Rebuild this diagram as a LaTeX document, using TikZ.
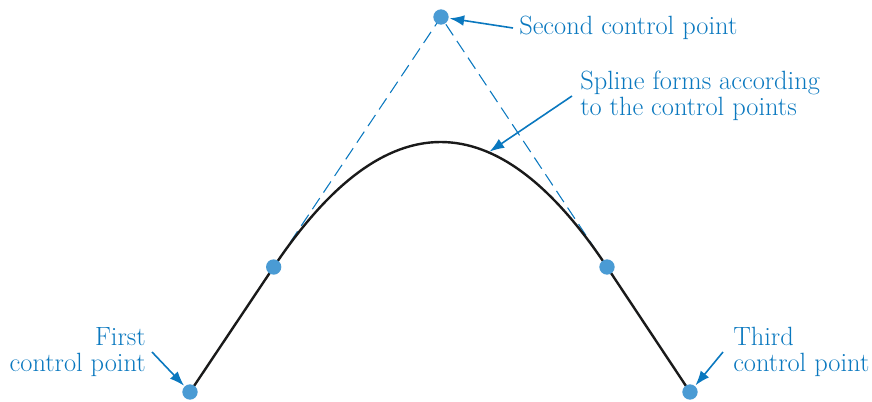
\documentclass[tikz,border=0pt]{standalone}
\usepackage{xcolor}
\usepackage{tikz}
\usetikzlibrary{arrows.meta,calc}
\definecolor{ink}{HTML}{1A1A1A}
\definecolor{accent}{HTML}{0A78BF}
\definecolor{dotblue}{HTML}{4A9BD4}
\tikzset{
  ctrldot/.style={circle,fill=dotblue,inner sep=0pt,minimum size=11.5pt},
  ctrllabel/.style={text=accent,font=\fontsize{19.8}{19.5}\selectfont,inner sep=0pt},
  polyline/.style={draw=accent,line width=0.8pt,dash pattern=on 10pt off 5pt},
  splineline/.style={draw=ink,line width=1.8pt},
  callout/.style={-{Latex[length=11pt,width=8pt]},draw=accent,line width=1.2pt,shorten >=0.5pt}
}

\begin{document}
\begin{tikzpicture}[x=0.75pt,y=-0.75pt]
\useasboundingbox (0,0) rectangle (872,401);
% control points
\coordinate (p1) at (190,392);
\coordinate (p2) at (441,17);
\coordinate (p3) at (690,392);
\coordinate (q1) at ($(p1)!1/3!(p2)$);
\coordinate (q2) at ($(p3)!1/3!(p2)$);
% control polygon
\draw[polyline] (p1) -- (p2) -- (p3);
% spline
\draw[splineline] (p1) -- (q1)
  .. controls ($(q1)!2/3!(p2)$) and ($(q2)!2/3!(p2)$) .. (q2) -- (p3);
\coordinate (onspline) at (489,152);
\node[ctrldot] (first) at (p1) {};
\node[ctrldot] (second) at (p2) {};
\node[ctrldot] (third) at (p3) {};
\node[ctrldot] (lefthalf) at (q1) {};
\node[ctrldot] (righthalf) at (q2) {};
% labels
\node[ctrllabel,anchor=west] (secondlbl) at (519,28) {Second control point};
\node[ctrllabel,anchor=west,align=left] (splinelbl) at (580,96) {Spline forms according\\to the control points};
\node[ctrllabel,anchor=east,align=right] (firstlbl) at (146,352) {First\\control point};
\node[ctrllabel,anchor=west,align=left] (thirdlbl) at (733,352) {Third\\control point};
% arrows
\draw[callout] (secondlbl.west) ++(-6,0) -- (second);
\draw[callout] (splinelbl.west) ++(-8,0) -- (onspline);
\draw[callout] (firstlbl.east) ++(6,0) -- (first);
\draw[callout] (thirdlbl.west) ++(-10,0) -- (third);
\end{tikzpicture}
\end{document}
